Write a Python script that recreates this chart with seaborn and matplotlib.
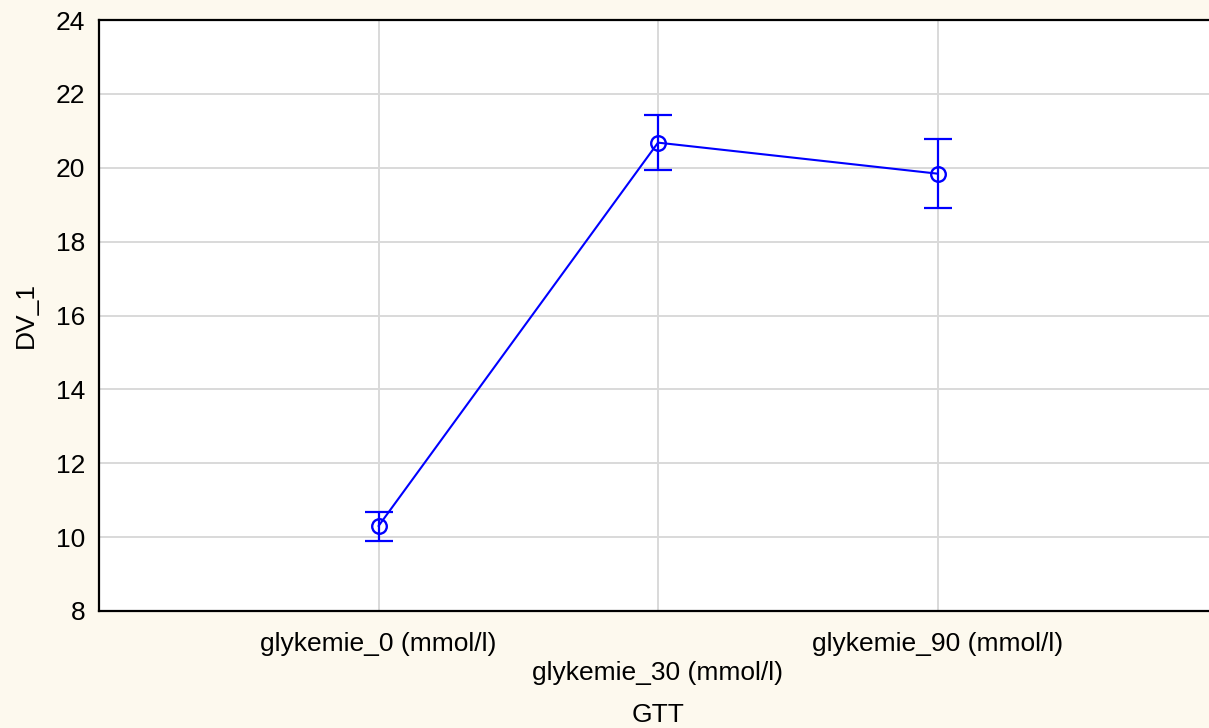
import numpy as np
import pandas as pd
import seaborn as sns
import matplotlib.pyplot as plt

categories = ["glykemie_0 (mmol/l)", "glykemie_30 (mmol/l)", "glykemie_90 (mmol/l)"]
means = [10.30, 20.68, 19.84]
err_low = [9.90, 19.94, 18.92]
err_high = [10.68, 21.43, 20.78]
yticks = [8, 10, 12, 14, 16, 18, 20, 22, 24]

sns.set_style("white")
plt.rcParams['font.family'] = ['Liberation Sans', 'DejaVu Sans']

bg = "#fdf9ee"
fig = plt.figure(figsize=(12.09, 7.28), dpi=100, facecolor=bg)
ax = fig.add_axes([99 / 1209, 1 - 611 / 728, (1217 - 99) / 1209, (611 - 20) / 728])
ax.set_facecolor("white")

df = pd.DataFrame({"GTT": categories, "DV_1": means})
sns.pointplot(data=df, x="GTT", y="DV_1", color="#0000ff", errorbar=None,
              markers="o", markersize=10.5, markerfacecolor="none",
              markeredgewidth=1.7, linewidth=1.5, ax=ax, zorder=3)

# error bars from the read-off lower/upper bounds
x = np.arange(len(categories))
m = np.array(means)
yerr = [m - np.array(err_low), np.array(err_high) - m]
ax.errorbar(x, m, yerr=yerr, fmt="none", ecolor="#0000ff", elinewidth=1.6,
            capsize=10, capthick=1.6, zorder=3)

ax.set_xlim(-1, 3)
ax.set_ylim(8, 24)
ax.set_yticks(yticks)
ax.set_xticks(x)
labels = [c if i % 2 == 0 else "\n" + c for i, c in enumerate(categories)]
ax.set_xticklabels(labels, fontsize=19, linespacing=1.25)
ax.tick_params(axis="x", length=0, pad=15, labelsize=19, colors="black")
ax.tick_params(axis="y", length=0, pad=10, labelsize=19, colors="black")
ax.grid(True, color="#d9d9d9", linewidth=1.4)
ax.set_axisbelow(True)

for side in ["left", "bottom", "top"]:
    ax.spines[side].set_visible(True)
    ax.spines[side].set_color("black")
    ax.spines[side].set_linewidth(1.6)
ax.spines["right"].set_visible(False)

ax.set_xlabel("GTT", fontsize=19, labelpad=13, color="black")
ax.set_ylabel("DV_1", fontsize=19, labelpad=13, color="black")

fig.savefig("out.png", dpi=100, facecolor=bg)
